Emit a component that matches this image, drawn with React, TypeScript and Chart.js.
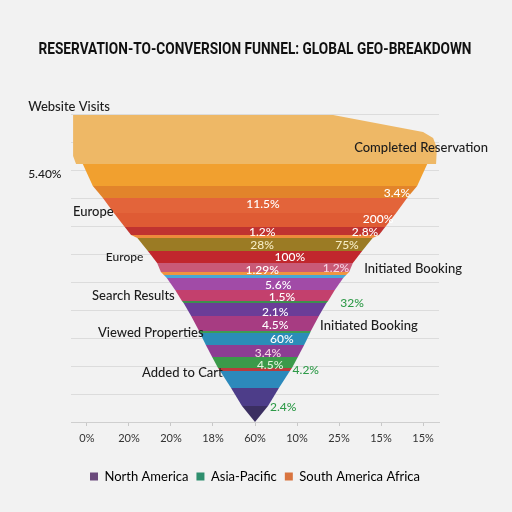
import React, { useEffect, useRef } from "react";
import { Chart, registerables } from "chart.js";

Chart.register(...registerables);

const TITLE = "RESERVATION-TO-CONVERSION FUNNEL: GLOBAL GEO-BREAKDOWN";

// x-axis tick positions (funnel-relative units) and the labels printed under them
const xTickValues = [-4, -3, -2, -1, 0, 1, 2, 3, 4];
const xTickLabels = ["0%", "20%", "20%", "18%", "60%", "10%", "25%", "15%", "15%"];

// legend
const legendNames = ["North America", "Asia-Pacific", "South America Africa"];
const legendColors = ["#6b4a7c", "#2f8f6e", "#d9743f"];

// top stage ("Website Visits") outline, funnel units
const headOutline = [
  { x: -4.33, y: 10.96 },
  { x: 1.86, y: 10.96 },
  { x: 4.0, y: 10.36 },
  { x: 4.24, y: 10.14 },
  { x: 4.33, y: 9.79 },
  { x: 4.31, y: 9.21 },
  { x: -4.26, y: 9.21 },
  { x: -4.33, y: 9.5 },
];
const headColor = "#eeb866";

// band boundaries (stage level) and funnel half-widths at each boundary
const bandBoundaries = [
  9.21, 8.43, 8.0, 7.46, 6.96, 6.68, 6.57, 6.11, 5.68, 5.36, 5.25, 5.14, 4.71,
  4.32, 4.25, 3.79, 3.25, 3.18, 2.75, 2.32, 1.93, 1.82, 1.21, 0.57, 0.0,
];
const bandHalfWidths = [
  4.1, 3.86, 3.62, 3.36, 3.1, 2.95, 2.8, 2.55, 2.33, 2.24, 2.17, 2.1, 1.9,
  1.74, 1.7, 1.52, 1.33, 1.31, 1.17, 1.02, 0.88, 0.83, 0.57, 0.31, 0.0,
];
const bandColors = [
  "#f1a02f", "#e2842b", "#e3643a", "#df5b34", "#c03330", "#ee8a3c",
  "#9b7b24", "#c1272d", "#c95a77", "#ef9440", "#48a6d6", "#a14ba7",
  "#c3406d", "#3d8f4f", "#6b3d98", "#a73c82", "#3f9b55", "#2b8db8",
  "#8d3d93", "#3b9a4a", "#b93b3c", "#2c89bb", "#4d3d89", "#3b2f61",
];

// annotation texts: [text, x, y, kind]
const annotations: [string, number, number, string][] = [
  ["Website Visits", -5.4, 11.25, "dark"],
  ["Completed Reservation", 2.36, 9.79, "dark"],
  ["5.40%", -5.4, 8.86, "darkSmall"],
  ["3.4%", 3.38, 8.18, "white"],
  ["11.5%", 0.19, 7.79, "white"],
  ["Europe", -4.33, 7.5, "dark"],
  ["200%", 2.93, 7.25, "white"],
  ["1.2%", 0.17, 6.79, "white"],
  ["2.8%", 2.62, 6.79, "white"],
  ["28%", 0.17, 6.32, "cream"],
  ["75%", 2.19, 6.32, "cream"],
  ["Europe", -3.55, 5.89, "darkSmall"],
  ["100%", 0.83, 5.89, "white"],
  ["1.29%", 0.17, 5.43, "white"],
  ["1.2%", 1.93, 5.5, "pinkish"],
  ["Initiated Booking", 2.6, 5.46, "dark"],
  ["5.6%", 0.55, 4.89, "white"],
  ["Search Results", -3.88, 4.5, "dark"],
  ["1.5%", 0.64, 4.46, "white"],
  ["32%", 2.31, 4.25, "green"],
  ["2.1%", 0.48, 3.93, "white"],
  ["4.5%", 0.48, 3.46, "white"],
  ["Initiated Booking", 1.55, 3.43, "dark"],
  ["Viewed Properties", -3.74, 3.18, "dark"],
  ["60%", 0.64, 2.96, "white"],
  ["3.4%", 0.31, 2.46, "pinkish"],
  ["4.5%", 0.36, 2.04, "mint"],
  ["4.2%", 1.21, 1.86, "green"],
  ["Added to Cart", -2.69, 1.75, "dark"],
  ["2.4%", 0.67, 0.54, "green"],
];

const FONT = "Lato, 'Open Sans', sans-serif";

const kindStyle: Record<string, { color: string; size: number; align: CanvasTextAlign; weight: string }> = {
  dark: { color: "#1c1c1c", size: 13, align: "left", weight: "500" },
  darkSmall: { color: "#1c1c1c", size: 12, align: "left", weight: "500" },
  white: { color: "#ffffff", size: 12, align: "center", weight: "500" },
  cream: { color: "#f6ecc4", size: 12, align: "center", weight: "500" },
  pinkish: { color: "#f6d4e4", size: 12, align: "center", weight: "500" },
  mint: { color: "#e2f4dc", size: 12, align: "center", weight: "500" },
  green: { color: "#2e9a48", size: 12, align: "center", weight: "500" },
};

const backgroundPlugin = {
  id: "bgFill",
  beforeDraw(chart: any) {
    const { ctx, width, height } = chart;
    ctx.save();
    ctx.fillStyle = "#f2f2f2";
    ctx.fillRect(0, 0, width, height);
    ctx.restore();
  },
};

const labelPlugin = {
  id: "funnelLabels",
  afterDatasetsDraw(chart: any) {
    const { ctx } = chart;
    const xs = chart.scales.x;
    const ys = chart.scales.y;
    ctx.save();
    ctx.textBaseline = "middle";
    for (const [text, x, y, kind] of annotations) {
      const st = kindStyle[kind];
      ctx.font = `${st.weight} ${st.size}px ${FONT}`;
      ctx.fillStyle = st.color;
      ctx.textAlign = st.align;
      ctx.fillText(text, xs.getPixelForValue(x), ys.getPixelForValue(y));
    }
    // title
    ctx.font = `bold 17px Roboto, sans-serif`;
    ctx.fillStyle = "#111111";
    ctx.textAlign = "center";
    const cx = (xs.left + xs.right) / 2;
    ctx.fillText(TITLE, cx, 50, 433);
    ctx.restore();
  },
};

export default function App() {
  const ref = useRef<HTMLCanvasElement>(null);

  useEffect(() => {
    document.body.style.margin = "0";
    document.body.style.background = "#f2f2f2";
    const canvas = ref.current;
    if (!canvas) return;

    const datasets: any[] = [];
    datasets.push({
      type: "scatter",
      data: headOutline,
      backgroundColor: headColor,
      borderWidth: 0,
      pointRadius: 0,
      showLine: true,
      fill: "shape",
      clip: false,
    });
    for (let i = 0; i < bandColors.length; i++) {
      const y0 = bandBoundaries[i];
      const y1 = bandBoundaries[i + 1];
      const w0 = bandHalfWidths[i];
      const w1 = bandHalfWidths[i + 1];
      datasets.push({
        type: "scatter",
        data: [
          { x: -w0, y: y0 },
          { x: w0, y: y0 },
          { x: w1, y: y1 },
          { x: -w1, y: y1 },
        ],
        backgroundColor: bandColors[i],
        borderWidth: 0,
        pointRadius: 0,
        showLine: true,
        fill: "shape",
        clip: false,
      });
    }

    const chart = new Chart(canvas, {
      type: "scatter",
      data: { datasets },
      plugins: [backgroundPlugin, labelPlugin],
      options: {
        animation: false,
        responsive: false,
        devicePixelRatio: 1,
        layout: { padding: { left: 71, right: 73, top: 114, bottom: 19 } },
        scales: {
          x: {
            type: "linear",
            min: -4.38,
            max: 4.38,
            afterBuildTicks: (scale: any) => {
              scale.ticks = xTickValues.map((v) => ({ value: v }));
            },
            afterFit: (scale: any) => {
              scale.height = 40;
            },
            grid: {
              drawOnChartArea: false,
              drawTicks: true,
              tickLength: 4,
              color: "#c8c8c8",
            },
            border: { display: true, color: "#cfcfcf" },
            ticks: {
              padding: 6,
              color: "#333333",
              font: { size: 11, family: FONT },
              callback: (v: any) => xTickLabels[xTickValues.indexOf(Number(v))] ?? "",
            },
          },
          y: {
            type: "linear",
            min: 0,
            max: 11,
            ticks: { display: false, stepSize: 1 },
            grid: { color: "#dcdcdc", drawTicks: false },
            border: { display: false },
          },
        },
        plugins: {
          title: { display: false },
          tooltip: { enabled: false },
          legend: {
            position: "bottom",
            labels: {
              boxWidth: 8,
              boxHeight: 8,
              padding: 8,
              color: "#222222",
              font: { size: 13, family: FONT },
              generateLabels: () =>
                legendNames.map((name, i) => ({
                  text: name,
                  fillStyle: legendColors[i],
                  strokeStyle: legendColors[i],
                  lineWidth: 0,
                  hidden: false,
                  datasetIndex: i,
                })),
            },
          },
        },
      },
    });
    return () => chart.destroy();
  }, []);

  return (
    <div style={{ width: 512, height: 512, background: "#f2f2f2" }}>
      <canvas ref={ref} width={512} height={512} style={{ display: "block" }} />
    </div>
  );
}
